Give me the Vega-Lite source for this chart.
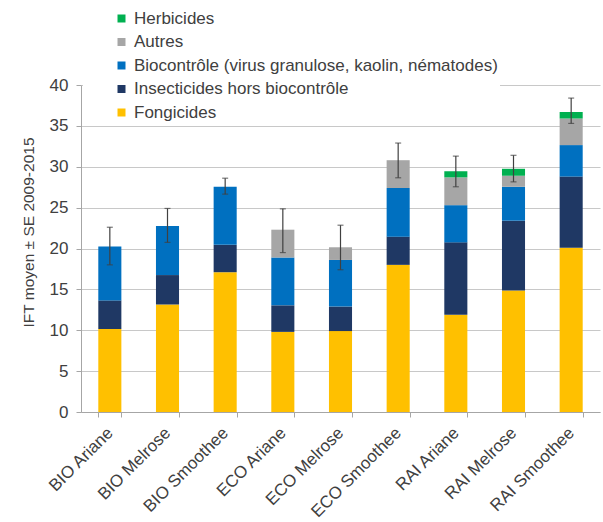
{
  "$schema": "https://vega.github.io/schema/vega-lite/v6.json",
  "width": 519,
  "height": 327,
  "autosize": {"type": "none"},
  "padding": {"left": 81, "top": 85, "right": 3, "bottom": 110},
  "background": "white",
  "config": {"font": "Liberation Sans", "view": {"stroke": null}},
  "datasets": {
    "segments": [
      {"traitement": "BIO Ariane", "type": "Fongicides", "rang": 1, "ift": 10.15},
      {"traitement": "BIO Ariane", "type": "Insecticides hors biocontrôle", "rang": 2, "ift": 3.5},
      {"traitement": "BIO Ariane", "type": "Biocontrôle (virus granulose, kaolin, nématodes)", "rang": 3, "ift": 6.6},
      {"traitement": "BIO Melrose", "type": "Fongicides", "rang": 1, "ift": 13.15},
      {"traitement": "BIO Melrose", "type": "Insecticides hors biocontrôle", "rang": 2, "ift": 3.6},
      {"traitement": "BIO Melrose", "type": "Biocontrôle (virus granulose, kaolin, nématodes)", "rang": 3, "ift": 6.0},
      {"traitement": "BIO Smoothee", "type": "Fongicides", "rang": 1, "ift": 17.1},
      {"traitement": "BIO Smoothee", "type": "Insecticides hors biocontrôle", "rang": 2, "ift": 3.35},
      {"traitement": "BIO Smoothee", "type": "Biocontrôle (virus granulose, kaolin, nématodes)", "rang": 3, "ift": 7.1},
      {"traitement": "ECO Ariane", "type": "Fongicides", "rang": 1, "ift": 9.8},
      {"traitement": "ECO Ariane", "type": "Insecticides hors biocontrôle", "rang": 2, "ift": 3.25},
      {"traitement": "ECO Ariane", "type": "Biocontrôle (virus granulose, kaolin, nématodes)", "rang": 3, "ift": 5.85},
      {"traitement": "ECO Ariane", "type": "Autres", "rang": 4, "ift": 3.4},
      {"traitement": "ECO Melrose", "type": "Fongicides", "rang": 1, "ift": 9.9},
      {"traitement": "ECO Melrose", "type": "Insecticides hors biocontrôle", "rang": 2, "ift": 3.0},
      {"traitement": "ECO Melrose", "type": "Biocontrôle (virus granulose, kaolin, nématodes)", "rang": 3, "ift": 5.7},
      {"traitement": "ECO Melrose", "type": "Autres", "rang": 4, "ift": 1.55},
      {"traitement": "ECO Smoothee", "type": "Fongicides", "rang": 1, "ift": 18.0},
      {"traitement": "ECO Smoothee", "type": "Insecticides hors biocontrôle", "rang": 2, "ift": 3.45},
      {"traitement": "ECO Smoothee", "type": "Biocontrôle (virus granulose, kaolin, nématodes)", "rang": 3, "ift": 5.95},
      {"traitement": "ECO Smoothee", "type": "Autres", "rang": 4, "ift": 3.4},
      {"traitement": "RAI Ariane", "type": "Fongicides", "rang": 1, "ift": 11.9},
      {"traitement": "RAI Ariane", "type": "Insecticides hors biocontrôle", "rang": 2, "ift": 8.85},
      {"traitement": "RAI Ariane", "type": "Biocontrôle (virus granulose, kaolin, nématodes)", "rang": 3, "ift": 4.55},
      {"traitement": "RAI Ariane", "type": "Autres", "rang": 4, "ift": 3.4},
      {"traitement": "RAI Ariane", "type": "Herbicides", "rang": 5, "ift": 0.75},
      {"traitement": "RAI Melrose", "type": "Fongicides", "rang": 1, "ift": 14.85},
      {"traitement": "RAI Melrose", "type": "Insecticides hors biocontrôle", "rang": 2, "ift": 8.55},
      {"traitement": "RAI Melrose", "type": "Biocontrôle (virus granulose, kaolin, nématodes)", "rang": 3, "ift": 4.15},
      {"traitement": "RAI Melrose", "type": "Autres", "rang": 4, "ift": 1.35},
      {"traitement": "RAI Melrose", "type": "Herbicides", "rang": 5, "ift": 0.85},
      {"traitement": "RAI Smoothee", "type": "Fongicides", "rang": 1, "ift": 20.1},
      {"traitement": "RAI Smoothee", "type": "Insecticides hors biocontrôle", "rang": 2, "ift": 8.7},
      {"traitement": "RAI Smoothee", "type": "Biocontrôle (virus granulose, kaolin, nématodes)", "rang": 3, "ift": 3.85},
      {"traitement": "RAI Smoothee", "type": "Autres", "rang": 4, "ift": 3.25},
      {"traitement": "RAI Smoothee", "type": "Herbicides", "rang": 5, "ift": 0.8}
    ],
    "erreurs": [
      {"traitement": "BIO Ariane", "bas": 18.0, "haut": 22.6},
      {"traitement": "BIO Melrose", "bas": 20.75, "haut": 24.9},
      {"traitement": "BIO Smoothee", "bas": 26.65, "haut": 28.6},
      {"traitement": "ECO Ariane", "bas": 19.5, "haut": 24.85},
      {"traitement": "ECO Melrose", "bas": 17.4, "haut": 22.85},
      {"traitement": "ECO Smoothee", "bas": 28.65, "haut": 32.9},
      {"traitement": "RAI Ariane", "bas": 27.55, "haut": 31.3},
      {"traitement": "RAI Melrose", "bas": 28.15, "haut": 31.4},
      {"traitement": "RAI Smoothee", "bas": 35.3, "haut": 38.4}
    ]
  },
  "layer": [
    {
      "data": {"name": "segments"},
      "mark": {"type": "bar"},
      "encoding": {
        "x": {
          "field": "traitement", "type": "nominal",
          "scale": {"paddingInner": 0.6, "paddingOuter": 0.3},
          "axis": {
            "title": null, "labelAngle": -45, "labelAlign": "right", "labelBaseline": "middle",
            "labelFontSize": 17, "labelColor": "#404040", "labelPadding": 13,
            "tickBand": "extent", "tickSize": 5, "tickColor": "#A6A6A6", "domainColor": "#A6A6A6"
          }
        },
        "y": {
          "field": "ift", "type": "quantitative", "stack": "zero",
          "title": "IFT moyen ± SE 2009-2015",
          "scale": {"domain": [0, 40], "nice": false},
          "axis": {
            "values": [0, 5, 10, 15, 20, 25, 30, 35, 40],
            "grid": true, "gridColor": "#C8C8C8",
            "domainColor": "#A6A6A6", "tickColor": "#A6A6A6", "tickSize": 5,
            "labelFontSize": 17, "labelColor": "#404040", "labelPadding": 8,
            "titleFontSize": 15.5, "titleFontWeight": "normal", "titleColor": "#404040",
            "titlePadding": 13, "titleY": 147
          }
        },
        "color": {
          "field": "type", "type": "nominal",
          "scale": {
            "domain": ["Herbicides", "Autres", "Biocontrôle (virus granulose, kaolin, nématodes)", "Insecticides hors biocontrôle", "Fongicides"],
            "range": ["#00B050", "#A6A6A6", "#0070C0", "#1F3864", "#FFC000"]
          },
          "legend": {
            "title": null, "orient": "none", "legendX": 2, "legendY": -77,
            "padding": 2, "fillColor": "white", "symbolOffset": 28,
            "symbolType": "square", "symbolSize": 64, "symbolStrokeWidth": 0,
            "labelFontSize": 17, "labelColor": "#404040", "labelOffset": 4,
            "rowPadding": 5.5, "labelLimit": 500
          }
        },
        "order": {"field": "rang", "type": "quantitative", "sort": "ascending"}
      }
    },
    {
      "data": {"name": "erreurs"},
      "mark": {"type": "rule", "color": "#404040", "strokeWidth": 1.2},
      "encoding": {
        "x": {"field": "traitement", "type": "nominal"},
        "y": {"field": "bas", "type": "quantitative", "title": "IFT moyen ± SE 2009-2015"},
        "y2": {"field": "haut"}
      }
    },
    {
      "data": {"name": "erreurs"},
      "mark": {"type": "tick", "color": "#404040", "thickness": 1.2, "size": 6},
      "encoding": {
        "x": {"field": "traitement", "type": "nominal"},
        "y": {"field": "bas", "type": "quantitative", "title": "IFT moyen ± SE 2009-2015"}
      }
    },
    {
      "data": {"name": "erreurs"},
      "mark": {"type": "tick", "color": "#404040", "thickness": 1.2, "size": 6},
      "encoding": {
        "x": {"field": "traitement", "type": "nominal"},
        "y": {"field": "haut", "type": "quantitative", "title": "IFT moyen ± SE 2009-2015"}
      }
    }
  ]
}
